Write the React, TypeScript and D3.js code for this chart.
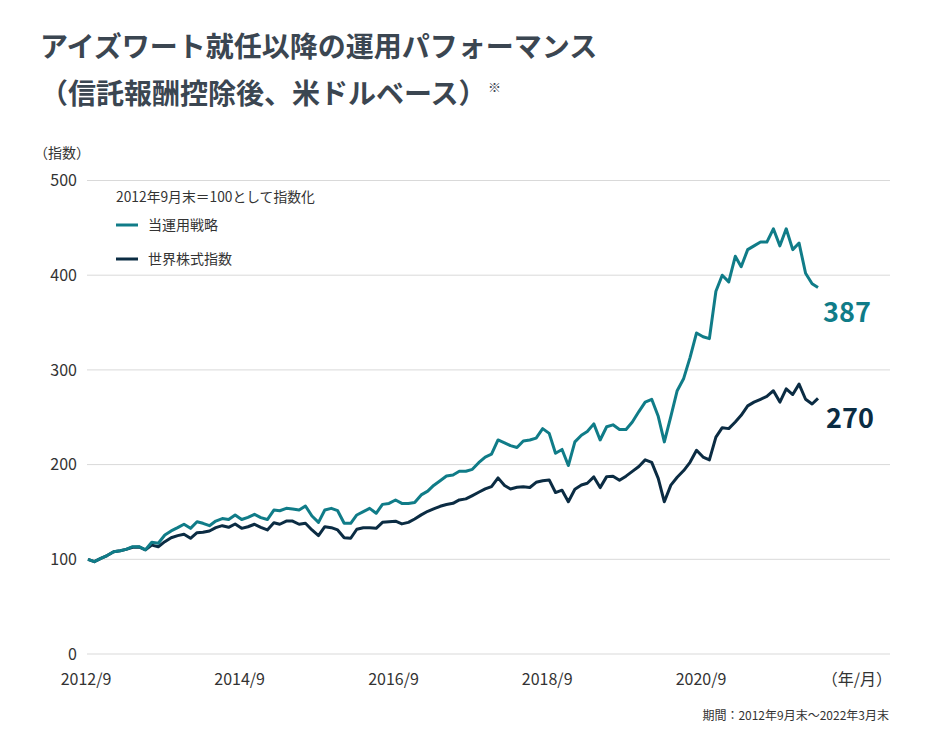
import React from "react";
import * as d3 from "d3";

// monthly index, end of month, 2012/9 = 100
const strategy = [
  100, 97.5, 101, 104, 108, 109, 110.5, 113.3, 113.3, 110, 118, 117, 125.6, 130, 133.4, 137,
  132.7, 139.7, 138, 135.5, 140.4, 143, 142, 146.8, 142, 144.3, 147.5, 144, 142, 152, 151.3,
  153.8, 153, 152, 156.3, 145.7, 139, 152, 153.8, 151.3, 138, 138, 146.8, 150.3, 153.8, 148.6,
  158, 159, 162.6, 159, 159, 160, 168, 172, 178, 183, 188, 189, 193, 193, 195, 202, 208, 211,
  226, 223, 220, 218, 225, 226, 228, 238, 233, 212, 216, 199, 224, 231, 235, 243, 226, 240,
  242, 237, 237, 245, 256, 266, 269, 251, 224, 251, 278, 291, 313, 339, 335, 333, 383, 400,
  393, 420, 409, 427, 431, 435, 435, 449, 431, 449, 427, 434, 402, 391, 387,
];

const worldIndex = [
  100, 97.5, 101, 104, 108, 109, 110.5, 112.7, 113, 110, 115, 113.3, 118.6, 122.8, 125, 126.4,
  122.2, 128.1, 128.5, 129.9, 133.4, 135.5, 133.8, 137.3, 132.7, 134.4, 137, 133.8, 131, 138.6,
  137, 140.4, 140.4, 137, 138, 131, 125, 134.4, 133.4, 131, 122.8, 122.2, 131.7, 133.4, 133.4,
  132.7, 139, 139.7, 140.2, 137.4, 139, 142.6, 146.9, 150.7, 153.2, 156, 157.8, 159.1, 162.7,
  163.8, 167.3, 170.8, 174.3, 176.8, 186, 178, 174.3, 176, 176.5, 175.8, 181.3, 183, 183.8,
  170.5, 173, 160.8, 174, 178.5, 180.3, 187, 175.7, 187.3, 187.8, 183.4, 187.8, 192.8, 198, 205,
  202.4, 185.5, 160.7, 178.3, 186.6, 193.7, 202.4, 215.2, 208, 205, 229, 239, 238, 245, 252,
  262, 266, 269, 272, 278, 266, 280, 274, 285, 269, 264, 270,
];

const months = d3.utcMonth.range(new Date(Date.UTC(2012, 8, 1)), new Date(Date.UTC(2022, 3, 1)));

const xTickLabels = ["2012/9", "2014/9", "2016/9", "2018/9", "2020/9"];
const yTicks = [0, 100, 200, 300, 400, 500];

const seriesNames = ["当運用戦略", "世界株式指数"];
const endLabels = ["387", "270"];

const TEAL = "#107c88";
const NAVY = "#0b2c43";
const TEXT = "#333333";
const FONT = "'Noto Sans CJK JP', 'Noto Sans', sans-serif";

export default function App() {
  const width = 930;
  const height = 740;

  const x = d3
    .scaleUtc()
    .domain(d3.extent(months) as [Date, Date])
    .range([88, 818]);
  const y = d3.scaleLinear().domain([0, 500]).range([654, 180.5]);

  const line = d3
    .line<number>()
    .x((_, i) => x(months[i]))
    .y((d) => y(d));

  const tickDates = xTickLabels.map((s) => {
    const [yy, mm] = s.split("/").map(Number);
    return new Date(Date.UTC(yy, mm - 1, 1));
  });

  return (
    <svg
      width={width}
      height={height}
      style={{ position: "absolute", left: 0, top: 0, background: "#fff" }}
      fontFamily={FONT}
    >
      <text x={40} y={57} fontSize={28} fontWeight={700} fill="#3b4651">
        アイズワート就任以降の運用パフォーマンス
      </text>
      <text x={40} y={104} fontSize={28} fontWeight={700} fill="#3b4651">
        （信託報酬控除後、米ドルベース）
      </text>
      <text x={488} y={92} fontSize={13} fill="#3b4651">
        ※
      </text>

      <text x={34} y={158} fontSize={14} fill={TEXT}>
        （指数）
      </text>

      {/* grid + y labels */}
      {yTicks.map((t) => (
        <g key={t}>
          <line x1={87} x2={890} y1={y(t)} y2={y(t)} stroke="#d9d9d9" strokeWidth={1} />
          <text x={77} y={y(t)} dy="0.35em" textAnchor="end" fontSize={16} fill={TEXT}>
            {t}
          </text>
        </g>
      ))}

      {/* x labels */}
      {tickDates.map((d, i) => (
        <text key={i} x={x(d) - 2} y={679} dy="0.35em" textAnchor="middle" fontSize={16} fill={TEXT}>
          {xTickLabels[i]}
        </text>
      ))}
      <text x={892} y={679} dy="0.35em" textAnchor="end" fontSize={16} fill={TEXT}>
        （年/月）
      </text>

      {/* legend */}
      <text x={116} y={197} dy="0.35em" fontSize={13.8} fill={TEXT}>
        2012年9月末＝100として指数化
      </text>
      {[TEAL, NAVY].map((c, i) => (
        <g key={i} transform={`translate(116,${225 + i * 34})`}>
          <line x1={0} x2={22} y1={0} y2={0} stroke={c} strokeWidth={3} />
          <text x={32} y={0} dy="0.35em" fontSize={14} fill={TEXT}>
            {seriesNames[i]}
          </text>
        </g>
      ))}

      {/* series */}
      <path d={line(worldIndex) ?? ""} fill="none" stroke={NAVY} strokeWidth={3} strokeLinejoin="round" />
      <path d={line(strategy) ?? ""} fill="none" stroke={TEAL} strokeWidth={3} strokeLinejoin="round" />

      {/* end labels */}
      <text x={847} y={y(strategy[strategy.length - 1]) + 25} dy="0.35em" textAnchor="middle" fontSize={27} fontWeight={700} fill={TEAL}>
        {endLabels[0]}
      </text>
      <text x={850} y={y(worldIndex[worldIndex.length - 1]) + 20} dy="0.35em" textAnchor="middle" fontSize={27} fontWeight={700} fill={NAVY}>
        {endLabels[1]}
      </text>

      <text x={889} y={716} dy="0.35em" textAnchor="end" fontSize={12} fill={TEXT}>
        期間：2012年9月末～2022年3月末
      </text>
    </svg>
  );
}
